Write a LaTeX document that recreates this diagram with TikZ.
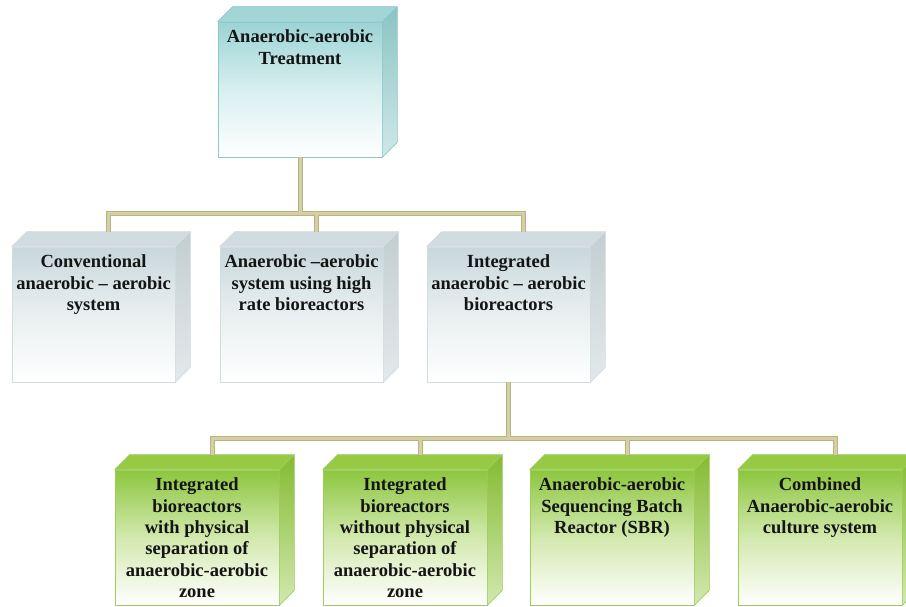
\documentclass[tikz,border=0pt]{standalone}
\usepackage{fontspec}
\setmainfont{Liberation Serif}
\definecolor{tealA}{HTML}{9CD3D4}
\definecolor{tealB}{HTML}{D8EFEF}
\definecolor{tealEdge}{HTML}{8CC9CC}
\definecolor{tealTop}{HTML}{A2D5D5}
\definecolor{tealRT}{HTML}{8CC3C4}
\definecolor{tealRB}{HTML}{CFE8E8}
\definecolor{greyA}{HTML}{C8D7DB}
\definecolor{greyB}{HTML}{E9EFF0}
\definecolor{greyEdge}{HTML}{D3DDE0}
\definecolor{greyTop}{HTML}{D0DCDF}
\definecolor{greyRT}{HTML}{C3CED2}
\definecolor{greyRB}{HTML}{E3E9EB}
\definecolor{greenA}{HTML}{8DC63F}
\definecolor{greenB}{HTML}{D2E9AE}
\definecolor{greenEdge}{HTML}{9FCC5E}
\definecolor{greenTop}{HTML}{96CA45}
\definecolor{greenRT}{HTML}{84BB32}
\definecolor{greenRB}{HTML}{D3E8B0}
\definecolor{connOut}{HTML}{BAB380}
\definecolor{connIn}{HTML}{D5CFA5}
\tikzset{
  front/.style={draw=#1Edge, line width=0.7pt, top color=#1A, bottom color=white, middle color=#1B,
    minimum height=135pt, inner sep=0pt},
  boxtxt/.style={font=\fontsize{18.5}{21.3}\selectfont\bfseries, text=black!92, align=center, inner sep=0pt},
  conn/.style={draw=connIn, line width=3pt, preaction={draw=connOut, line width=5pt}}
}
\newcommand\mkcube[6]{%
  \node[front=#5, minimum width=#4pt] (#1) at (#2+#4/2, #3+67.5) {};
  \path[fill=#5Top, draw=#5Edge, line width=0.7pt, line join=round]
    (#1.north west) -- ++(15,-15) -- ([shift={(15,-15)}]#1.north east) -- (#1.north east) -- cycle;
  \path[top color=#5RT, bottom color=#5RB, draw=#5Edge, line width=0.7pt, line join=round]
    (#1.north east) -- ++(15,-15) -- ([shift={(15,-15)}]#1.south east) -- (#1.south east) -- cycle;
  \node[boxtxt, anchor=north] (#1txt) at ([yshift=-7pt]#1.north) {\rule{0pt}{14pt}#6};
}
\begin{document}
\begin{tikzpicture}[x=1pt,y=-1pt]
\useasboundingbox (0,0) rectangle (906,606);
\fill[white] (0,0) rectangle (906,606);
\clip (0,0) rectangle (906,606);
% boxes
\mkcube{top}{218}{22}{164}{teal}{Anaerobic-aerobic\\Treatment}
\mkcube{b1}{12}{247}{163}{grey}{Conventional\\anaerobic -- aerobic\\system}
\mkcube{b2}{220}{247}{163}{grey}{Anaerobic --aerobic\\system using high\\rate bioreactors}
\mkcube{b3}{427}{247}{163}{grey}{Integrated\\anaerobic -- aerobic\\bioreactors}
\mkcube{c1}{115}{470}{164}{green}{Integrated\\bioreactors\\with physical\\separation of\\anaerobic-aerobic\\zone}
\mkcube{c2}{323}{470}{164}{green}{Integrated\\bioreactors\\without physical\\separation of\\anaerobic-aerobic\\zone}
\mkcube{c3}{530}{470}{164}{green}{Anaerobic-aerobic\\Sequencing Batch\\Reactor (SBR)}
\mkcube{c4}{738}{470}{164}{green}{Combined\\Anaerobic-aerobic\\culture system}
% connector anchors
\coordinate (j1) at (300,213);
\coordinate (j2) at (508.5,438);
\foreach \n in {b1,b2,b3,c1,c2,c3,c4}{
  \coordinate (\n t) at ([xshift=15pt,yshift=15pt]\n.north);
}
\path[conn] (top.south) -- (j1)
  (b1t) |- (j1) -| (b3t)
  (b2t) -- (b2t |- j1)
  (b3.south) -- (j2)
  (c1t) |- (j2) -| (c4t)
  (c2t) -- (c2t |- j2)
  (c3t) -- (c3t |- j2);
\end{tikzpicture}
\end{document}
